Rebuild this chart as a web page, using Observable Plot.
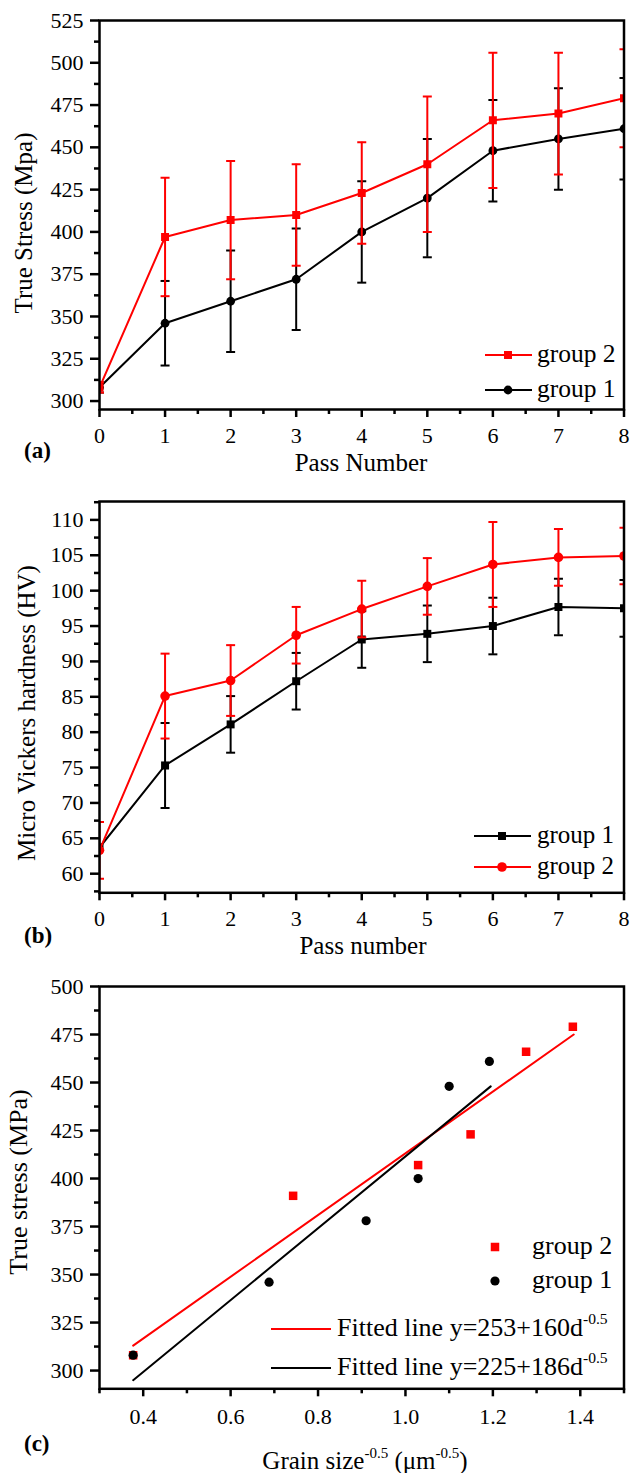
<!DOCTYPE html>
<html>
<head>
<meta charset="utf-8">
<script src="https://cdn.jsdelivr.net/npm/d3@7"></script>
<script src="https://cdn.jsdelivr.net/npm/@observablehq/plot@0.6"></script>
<style>
  html, body { margin: 0; padding: 0; background: #fff; }
  #wrap { position: relative; width: 630px; height: 1473px; overflow: hidden; font-family: 'Liberation Serif', serif; color: #000; }
  #wrap div { font-family: 'Liberation Serif', serif; }
  #wrap svg text { font-family: 'Liberation Serif', serif; }
  .panel { position: absolute; left: 0; }
  .lbl { position: absolute; white-space: nowrap; line-height: 1; }
  .ytitle { position: absolute; white-space: nowrap; line-height: 1; transform: translate(-50%, -50%) rotate(-90deg); }
  .xtitle { position: absolute; white-space: nowrap; line-height: 1; transform: translate(-50%, -50%); }
  sup { font-size: 60%; vertical-align: 0; position: relative; top: -0.75em; }
</style>
</head>
<body>
<div id="wrap"></div>
<script>
// ---------- data ----------
const passes = [0, 1, 2, 3, 4, 5, 6, 7, 8];

// (a) true stress vs pass number
const stressG2    = [308, 397, 407, 410, 423, 440, 466, 470, 479];
const stressG2Err = [3, 35, 35, 30, 30, 40, 40, 36, 29];
const stressG1    = [308, 346, 359, 372, 400, 420, 448, 455, 461];
const stressG1Err = [3, 25, 30, 30, 30, 35, 30, 30, 30];

// (b) micro Vickers hardness vs pass number
const hardG1    = [63.7, 75.3, 81.1, 87.2, 93.1, 93.9, 95.0, 97.7, 97.5];
const hardG1Err = [0, 6, 4, 4, 4, 4, 4, 4, 4];
const hardG2    = [63.3, 85.1, 87.3, 93.7, 97.4, 100.6, 103.7, 104.7, 104.9];
const hardG2Err = [4, 6, 5, 4, 4, 4, 6, 4, 4];

// (c) true stress vs grain size^-0.5
const grainG2       = [0.377, 0.743, 1.029, 1.149, 1.276, 1.383];
const grainStressG2 = [308, 391, 407, 423, 466, 479];
const grainG1       = [0.377, 0.688, 0.910, 1.029, 1.100, 1.192];
const grainStressG1 = [308, 346, 378, 400, 448, 461];
const fitG2X = [0.377, 1.385], fitG2Y = [313, 475];
const fitG1X = [0.377, 1.195], fitG1Y = [295, 448];

// tick values
const passTicks = [0, 1, 2, 3, 4, 5, 6, 7, 8];
const passMinor = [0.5, 1.5, 2.5, 3.5, 4.5, 5.5, 6.5, 7.5];
const stressTicks = [300, 325, 350, 375, 400, 425, 450, 475, 500, 525];
const stressMinor = [312.5, 337.5, 362.5, 387.5, 412.5, 437.5, 462.5, 487.5, 512.5];
const hardTicks = [60, 65, 70, 75, 80, 85, 90, 95, 100, 105, 110];
const hardMinor = [57.5, 62.5, 67.5, 72.5, 77.5, 82.5, 87.5, 92.5, 97.5, 102.5, 107.5, 112.5];
const grainTicks = [0.4, 0.6, 0.8, 1.0, 1.2, 1.4];
const grainMinor = [0.3, 0.5, 0.7, 0.9, 1.1, 1.3, 1.5];
const stressCTicks = [300, 325, 350, 375, 400, 425, 450, 475, 500];
const stressCMinor = [312.5, 337.5, 362.5, 387.5, 412.5, 437.5, 462.5, 487.5];

// ---------- helpers ----------
const FONT = "'Liberation Serif', serif";
const RED = "#ff0000", BLACK = "#000000";
const capSymbol = { draw(ctx, size) { const r = Math.sqrt(size / Math.PI); ctx.moveTo(-r, 0); ctx.lineTo(r, 0); } };
const rows = (xs, ys, errs) => xs.map((x, i) => ({ x, y: ys[i], lo: errs ? ys[i] - errs[i] : null, hi: errs ? ys[i] + errs[i] : null, e: errs ? errs[i] : 0 }));

function series(data, color, symbol, r) {
  const withErr = data.filter(d => d.e > 0);
  return [
    Plot.ruleX(withErr, { x: "x", y1: "lo", y2: "hi", stroke: color, strokeWidth: 2, clip: true }),
    Plot.dot(withErr, { x: "x", y: "hi", symbol: capSymbol, r: 4.5, stroke: color, strokeWidth: 2, fill: "none", clip: true }),
    Plot.dot(withErr, { x: "x", y: "lo", symbol: capSymbol, r: 4.5, stroke: color, strokeWidth: 2, fill: "none", clip: true }),
    Plot.line(data, { x: "x", y: "y", stroke: color, strokeWidth: 2, clip: true }),
    Plot.dot(data, { x: "x", y: "y", symbol, r, fill: color, stroke: "none", clip: true })
  ];
}

function panel({ height, mt, mb, xDomain, yDomain, xMajor, xMinor, yMajor, yMinor, xFmt, xPad, marks }) {
  return Plot.plot({
    width: 630, height,
    marginTop: mt, marginBottom: mb, marginLeft: 99, marginRight: 6.5,
    x: { domain: xDomain },
    y: { domain: yDomain },
    style: { fontFamily: FONT, fontSize: "22px", color: "#000", background: "transparent", overflow: "visible" },
    marks: [
      ...marks,
      Plot.frame({ stroke: BLACK, strokeWidth: 2.5 }),
      Plot.axisX(xMajor, { tickSize: 8, tickPadding: xPad, strokeWidth: 2.5, fontSize: 22, label: null, tickFormat: xFmt }),
      Plot.axisX(xMinor, { tickSize: 5, strokeWidth: 2.5, label: null, tickFormat: () => "" }),
      Plot.axisY(yMajor, { tickSize: 9, tickPadding: 7, strokeWidth: 2.5, fontSize: 22, label: null, tickFormat: d => String(d) }),
      Plot.axisY(yMinor, { tickSize: 5, strokeWidth: 2.5, label: null, tickFormat: () => "" })
    ]
  });
}

const wrap = document.getElementById("wrap");
function place(svg, top) {
  svg.classList.add("panel");
  svg.style.top = top + "px";
  svg.setAttribute("font-family", FONT);
  svg.style.fontFamily = FONT;
  wrap.appendChild(svg);
}
function html(str) { const t = document.createElement("template"); t.innerHTML = str.trim(); const el = t.content.firstChild; wrap.appendChild(el); return el; }

// ---------- (a) ----------
place(panel({
  height: 480, mt: 20, mb: 71, xDomain: [0, 8], yDomain: [295, 525],
  xMajor: passTicks, xMinor: passMinor, yMajor: stressTicks, yMinor: stressMinor,
  xFmt: d => String(d), xPad: 10,
  marks: [
    ...series(rows(passes, stressG1, stressG1Err), BLACK, "circle", 4.4),
    ...series(rows(passes, stressG2, stressG2Err), RED, "square", 4.5)
  ]
}), 0);

// ---------- (b) ----------
place(panel({
  height: 480, mt: 21, mb: 67.7, xDomain: [0, 8], yDomain: [57.3, 112.6],
  xMajor: passTicks, xMinor: passMinor, yMajor: hardTicks, yMinor: hardMinor,
  xFmt: d => String(d), xPad: 10,
  marks: [
    ...series(rows(passes, hardG1, hardG1Err), BLACK, "square", 4.5),
    ...series(rows(passes, hardG2, hardG2Err), RED, "circle", 4.8)
  ]
}), 480);

// ---------- (c) ----------
place(panel({
  height: 513, mt: 26, mb: 84.7, xDomain: [0.3, 1.5], yDomain: [290.5, 500],
  xMajor: grainTicks, xMinor: grainMinor, yMajor: stressCTicks, yMinor: stressCMinor,
  xFmt: d3.format(".1f"), xPad: 12,
  marks: [
    Plot.line(fitG2X.map((x, i) => ({ x, y: fitG2Y[i] })), { x: "x", y: "y", stroke: RED, strokeWidth: 2 }),
    Plot.line(fitG1X.map((x, i) => ({ x, y: fitG1Y[i] })), { x: "x", y: "y", stroke: BLACK, strokeWidth: 2 }),
    Plot.dot(rows(grainG2, grainStressG2), { x: "x", y: "y", symbol: "square", r: 4.8, fill: RED, clip: true }),
    Plot.dot(rows(grainG1, grainStressG1), { x: "x", y: "y", symbol: "circle", r: 4.6, fill: BLACK, clip: true })
  ]
}), 960);

// ---------- titles ----------
html(`<div class="ytitle" style="left:23px; top:223px; font-size:25px;">True Stress (Mpa)</div>`);
html(`<div class="xtitle" style="left:361px; top:462px; font-size:25px;">Pass Number</div>`);
html(`<div class="lbl" style="left:24px; top:439px; font-size:23px; font-weight:bold;">(a)</div>`);

html(`<div class="ytitle" style="left:26px; top:713px; font-size:25px;">Micro Vickers hardness (HV)</div>`);
html(`<div class="xtitle" style="left:363px; top:945px; font-size:25px;">Pass number</div>`);
html(`<div class="lbl" style="left:24px; top:924px; font-size:23px; font-weight:bold;">(b)</div>`);

html(`<div class="ytitle" style="left:19px; top:1182px; font-size:26px;">True stress (MPa)</div>`);
html(`<div class="xtitle" style="left:365px; top:1460px; font-size:25px;">Grain size<sup>-0.5</sup> (&mu;m<sup>-0.5</sup>)</div>`);
html(`<div class="lbl" style="left:24px; top:1432px; font-size:23px; font-weight:bold;">(c)</div>`);

// ---------- legends ----------
function legendItem({ x1, x2, mx, y, color, marker, r, textX, text, size, line = true }) {
  const sq = r * Math.sqrt(Math.PI);
  const mk = marker === "square"
    ? `<rect x="${mx - sq / 2}" y="${y - sq / 2}" width="${sq}" height="${sq}" fill="${color}"/>`
    : marker === "circle" ? `<circle cx="${mx}" cy="${y}" r="${r}" fill="${color}"/>` : "";
  const ln = line ? `<line x1="${x1}" x2="${x2}" y1="${y}" y2="${y}" stroke="${color}" stroke-width="2"/>` : "";
  html(`<svg style="position:absolute;left:0;top:0;overflow:visible" width="630" height="1473">${ln}${mk}</svg>`);
  html(`<div class="lbl" style="left:${textX}px; top:${y}px; font-size:${size}px; transform:translateY(-55%);">${text}</div>`);
}
legendItem({ x1: 485, x2: 532, mx: 508, y: 355, color: RED, marker: "square", r: 4.5, textX: 537, text: "group 2", size: 25.5 });
legendItem({ x1: 485, x2: 532, mx: 508, y: 390, color: BLACK, marker: "circle", r: 4.4, textX: 537, text: "group 1", size: 25.5 });

legendItem({ x1: 474, x2: 531, mx: 502, y: 836, color: BLACK, marker: "square", r: 4.5, textX: 537, text: "group 1", size: 25 });
legendItem({ x1: 474, x2: 531, mx: 502, y: 867, color: RED, marker: "circle", r: 4.8, textX: 537, text: "group 2", size: 25 });

legendItem({ mx: 495, y: 1247, color: RED, marker: "square", r: 4.8, textX: 532, text: "group 2", size: 26, line: false });
legendItem({ mx: 495, y: 1281, color: BLACK, marker: "circle", r: 4.6, textX: 532, text: "group 1", size: 26, line: false });
legendItem({ x1: 271, x2: 331, y: 1329, color: RED, marker: "none", r: 0, textX: 337, text: "Fitted line y=253+160d<sup>-0.5</sup>", size: 26 });
legendItem({ x1: 271, x2: 331, y: 1368, color: BLACK, marker: "none", r: 0, textX: 337, text: "Fitted line y=225+186d<sup>-0.5</sup>", size: 26 });
</script>
</body>
</html>
